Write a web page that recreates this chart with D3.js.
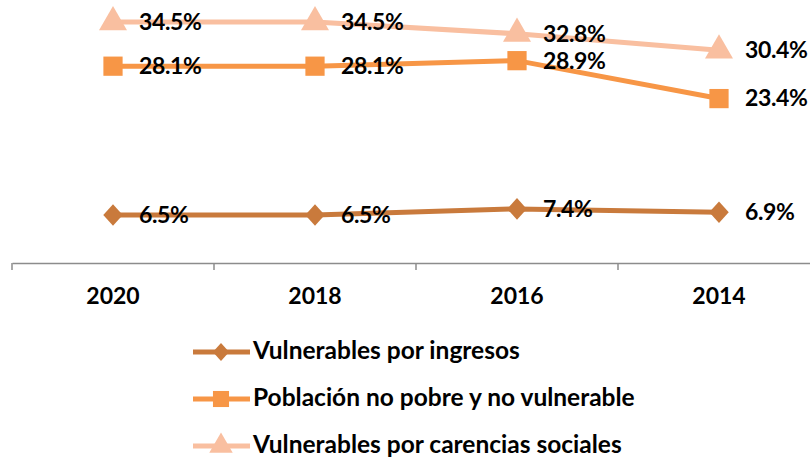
<!DOCTYPE html>
<html>
<head>
<meta charset="utf-8">
<script src="https://cdn.jsdelivr.net/npm/d3@7"></script>
<style>
  body { margin: 0; background: #fff; }
  svg { display: block; font-family: Lato, "Open Sans", sans-serif; font-weight: 700; }
</style>
</head>
<body>
<div id="chart"></div>
<script>
  // years as shown, newest first
  const YEARS = ["2020", "2018", "2016", "2014"];

  const SERIES_NAMES = [
    "Vulnerables por ingresos",
    "Población no pobre y no vulnerable",
    "Vulnerables por carencias sociales",
  ];

  const VULN_INGRESOS = [6.5, 6.5, 7.4, 6.9];
  const NO_POBRE = [28.1, 28.1, 28.9, 23.4];
  const VULN_CARENCIAS = [34.5, 34.5, 32.8, 30.4];

  const W = 810, H = 459;
  const COLORS = ["#c97a3c", "#f79646", "#f9bfa0"];

  // Excel style diamond (wider than d3's default)
  const wideDiamond = {
    draw(ctx, size) {
      const r = Math.sqrt(size) / 2;
      ctx.moveTo(0, -r * 1.05);
      ctx.lineTo(r * 0.95, 0);
      ctx.lineTo(0, r * 1.05);
      ctx.lineTo(-r * 0.95, 0);
      ctx.closePath();
    },
  };
  const SYMBOLS = [wideDiamond, d3.symbolSquare, d3.symbolTriangle];
  const SYM_SIZE = [420, 370, 340];

  const series = SERIES_NAMES.map((name, i) => ({
    name,
    values: [VULN_INGRESOS, NO_POBRE, VULN_CARENCIAS][i],
    color: COLORS[i],
    symbol: SYMBOLS[i],
    size: SYM_SIZE[i],
  }));

  const svg = d3.select("#chart").append("svg")
    .attr("width", W).attr("height", H);

  const x = d3.scaleBand().domain(YEARS).range([12, 820]);
  const y = d3.scaleLinear().domain([-0.45, 37.7]).range([263, 0]);

  // x axis
  const axis = svg.append("g")
    .attr("transform", "translate(0,263)")
    .call(d3.axisBottom(x).tickSize(0).tickPadding(25));
  axis.select(".domain").attr("stroke", "#8c8c8c").attr("stroke-width", 1.5);
  axis.selectAll("text")
    .attr("font-family", "Lato, sans-serif")
    .attr("font-weight", 700)
    .attr("font-size", 23)
    .attr("fill", "#000");

  // tick separators between categories
  const bounds = YEARS.map((d) => x(d)).concat([x(YEARS[YEARS.length - 1]) + x.bandwidth()]);
  svg.append("g").selectAll("line").data(bounds).enter().append("line")
    .attr("x1", (d) => d).attr("x2", (d) => d)
    .attr("y1", 263).attr("y2", 270)
    .attr("stroke", "#8c8c8c").attr("stroke-width", 1.5);

  const cx = (d) => x(d) + x.bandwidth() / 2;

  const line = d3.line()
    .x((d) => cx(d.year))
    .y((d) => y(d.value));

  series.forEach((s) => {
    const pts = YEARS.map((year, i) => ({ year, value: s.values[i] }));
    const g = svg.append("g");

    g.append("path")
      .datum(pts)
      .attr("fill", "none")
      .attr("stroke", s.color)
      .attr("stroke-width", 5)
      .attr("d", line);

    g.selectAll(".mark").data(pts).enter().append("path")
      .attr("class", "mark")
      .attr("d", d3.symbol().type(s.symbol).size(s.size))
      .attr("transform", (d) => `translate(${cx(d.year)},${y(d.value)})`)
      .attr("fill", s.color);

    g.selectAll(".lbl").data(pts).enter().append("text")
      .attr("class", "lbl")
      .attr("x", (d) => cx(d.year) + 26)
      .attr("y", (d) => y(d.value) + 2)
      .attr("dominant-baseline", "middle")
      .attr("font-size", 23)
      .attr("letter-spacing", -0.4)
      .attr("fill", "#000")
      .text((d) => d.value.toFixed(1) + "%");
  });

  // legend
  const legend = svg.append("g").attr("transform", "translate(193,352)");
  series.forEach((s, i) => {
    const row = legend.append("g").attr("transform", `translate(0,${i * 47})`);
    row.append("line")
      .attr("x1", 0).attr("x2", 57)
      .attr("stroke", s.color).attr("stroke-width", 5);
    row.append("path")
      .attr("d", d3.symbol().type(s.symbol).size(s.size * 0.7))
      .attr("transform", "translate(28,0)")
      .attr("fill", s.color);
    row.append("text")
      .attr("x", 60)
      .attr("y", 1)
      .attr("dominant-baseline", "middle")
      .attr("font-size", 24.5)
      .attr("fill", "#000")
      .text(s.name);
  });
</script>
</body>
</html>
